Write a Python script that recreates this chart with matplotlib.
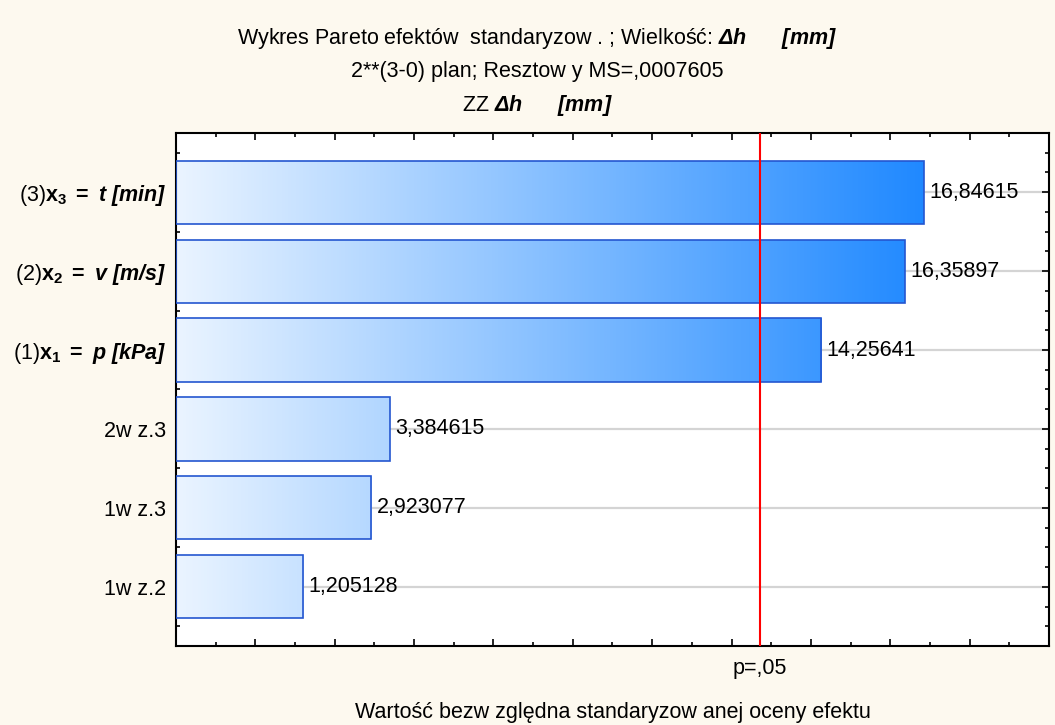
import numpy as np
import matplotlib.pyplot as plt
from matplotlib.colors import LinearSegmentedColormap
from matplotlib.ticker import MultipleLocator

# Effects sorted by absolute standardized estimate (top to bottom)
effect_labels = [
    r"(3)$\mathbf{x_3}\ \mathbf{=}\ \mathbfit{t\ [min]}$",
    r"(2)$\mathbf{x_2}\ \mathbf{=}\ \mathbfit{v\ [m/s]}$",
    r"(1)$\mathbf{x_1}\ \mathbf{=}\ \mathbfit{p\ [kPa]}$",
    "2w z.3",
    "1w z.3",
    "1w z.2",
]
effect_values = [16.84615, 16.35897, 14.25641, 3.384615, 2.923077, 1.205128]
t_crit = 12.706  # p = .05 critical value

plt.rcParams['font.family'] = ['Liberation Sans', 'DejaVu Sans']
plt.rcParams['mathtext.fontset'] = 'custom'
plt.rcParams['mathtext.rm'] = 'Liberation Sans'
plt.rcParams['mathtext.it'] = 'Liberation Sans:italic'
plt.rcParams['mathtext.bf'] = 'Liberation Sans:bold'
plt.rcParams['mathtext.bfit'] = 'Liberation Sans:italic:bold'

fs = 15.5
bg = '#fdf9ef'
fig = plt.figure(figsize=(10.55, 7.25), dpi=100, facecolor=bg)
ax = fig.add_axes([0.1668, 0.109, 0.8275, 0.7076])

xmin, xmax = -2, 20
cmap = LinearSegmentedColormap.from_list('bars', ['#eaf4ff', '#1e88ff'])
grad = np.linspace(xmin, xmax, 600).reshape(1, -1)

for i, v in enumerate(effect_values):
    ax.axhline(i, color='#d4d4d4', lw=1.6, zorder=1)
    bar = ax.barh(i, v - xmin, left=xmin, height=0.8, facecolor='none',
                  edgecolor='#2456d0', lw=1.2, zorder=3)[0]
    im = ax.imshow(grad, extent=[xmin, xmax, i + 0.4, i - 0.4], cmap=cmap,
                   vmin=-2, vmax=17, aspect='auto', zorder=2, interpolation='bilinear')
    im.set_clip_path(bar)
    ax.annotate(f"{v:.7g}".replace('.', ','), xy=(v, i), xytext=(4, 0),
                textcoords='offset points', va='center', ha='left', fontsize=fs)

ax.axvline(t_crit, color='#ff0000', lw=1.5, zorder=4)

ax.set_xlim(xmin, xmax)
ax.set_ylim(5.75, -0.75)
ax.set_yticks(range(len(effect_labels)))
ax.set_yticklabels(effect_labels, fontsize=fs)
ax.yaxis.set_minor_locator(MultipleLocator(0.25))
ax.xaxis.set_major_locator(MultipleLocator(2))
ax.xaxis.set_minor_locator(MultipleLocator(1))
ax.tick_params(axis='both', which='both', direction='in', top=True, right=True,
               labelbottom=False, width=1.2)
ax.tick_params(axis='both', which='major', length=5)
ax.tick_params(axis='both', which='minor', length=3)
ax.tick_params(axis='y', which='major', pad=7)
for s in ax.spines.values():
    s.set_linewidth(1.5)

ax.annotate("p=,05", xy=(t_crit, 0), xycoords=('data', 'axes fraction'),
            xytext=(0, -9), textcoords='offset points', ha='center', va='top', fontsize=fs)
ax.set_xlabel("Wartość bezw zględna standaryzow anej oceny efektu", fontsize=fs, labelpad=40)

cx = 0.509
fig.text(cx, 1 - 44 / 725, r"Wykres Pareto efektów  standaryzow . ; Wielkość: $\mathbfit{Δh}$      $\mathbfit{[mm]}$",
         ha='center', va='baseline', fontsize=fs)
fig.text(cx, 1 - 77.5 / 725, "2**(3-0) plan; Resztow y MS=,0007605",
         ha='center', va='baseline', fontsize=fs)
fig.text(cx, 1 - 111.5 / 725, r"ZZ $\mathbfit{Δh}$      $\mathbfit{[mm]}$",
         ha='center', va='baseline', fontsize=fs)

fig.savefig('out.png', dpi=100, facecolor=bg)
